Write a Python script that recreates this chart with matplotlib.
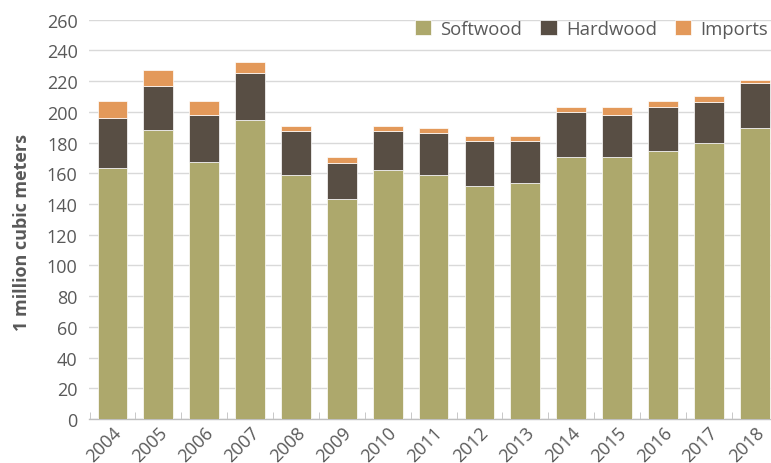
import matplotlib.pyplot as plt
import numpy as np

# valeurs (cumuls), en millions de m3
annees = ['2004', '2005', '2006', '2007', '2008', '2009', '2010', '2011',
          '2012', '2013', '2014', '2015', '2016', '2017', '2018']
softwood = [163.7, 188.1, 167.2, 194.8, 158.7, 143.0, 162.0, 158.7,
            151.5, 153.5, 170.6, 170.6, 174.2, 179.4, 189.6]
top_hardwood = [196.3, 217.0, 198.0, 225.4, 187.6, 167.0, 187.6, 186.0,
                180.9, 180.9, 199.8, 198.0, 203.3, 206.5, 218.9]
top_imports = [206.8, 227.4, 206.8, 232.6, 191.1, 170.5, 191.1, 189.6,
               184.3, 184.3, 203.3, 203.3, 207.0, 210.2, 220.7]

hardwood = [h - s for h, s in zip(top_hardwood, softwood)]
imports = [i - h for i, h in zip(top_imports, top_hardwood)]

gris = '#595959'
plt.rcParams['font.family'] = ['Open Sans', 'DejaVu Sans']

fig = plt.figure(figsize=(7.71, 4.64), dpi=100)
ax = fig.add_axes([0.115, 0.0948, 0.8947, 0.8606])

x = np.arange(len(annees))
largeur = 0.65
ax.bar(x, softwood, largeur, color='#ADA86C', edgecolor='white', linewidth=0.5,
       label='Softwood', zorder=3)
ax.bar(x, hardwood, largeur, bottom=softwood, color='#584E44', edgecolor='white',
       linewidth=0.5, label='Hardwood', zorder=3)
ax.bar(x, imports, largeur, bottom=top_hardwood, color='#E3995A', edgecolor='white',
       linewidth=0.5, label='Imports', zorder=3)

ax.set_xlim(-0.52, len(annees) - 0.48)
ax.set_ylim(0, 260)
ax.set_yticks(range(0, 261, 20))
ax.yaxis.grid(True, color='#d9d9d9', linewidth=1, zorder=0)
ax.set_axisbelow(True)

for s in ['left', 'top', 'right']:
    ax.spines[s].set_visible(False)
ax.spines['bottom'].set_color('#bfbfbf')
ax.spines['bottom'].set_linewidth(1)

ax.set_xticks(x)
ax.set_xticklabels(annees, rotation=45, ha='right', rotation_mode='anchor')
ax.set_xticks(np.arange(-0.5, len(annees), 1), minor=True)
ax.tick_params(axis='x', which='major', length=0, pad=3, labelsize=13, labelcolor=gris)
ax.tick_params(axis='x', which='minor', direction='in', length=5, color='#bfbfbf')
ax.tick_params(axis='y', length=0, pad=8, labelsize=13, labelcolor=gris)

ax.set_ylabel('1 million cubic meters', fontsize=13, fontweight='bold', color=gris)
ax.yaxis.set_label_coords(-0.083, 0.47)

leg = ax.legend(loc='upper right', bbox_to_anchor=(0.996, 1.017), ncol=3, frameon=False,
                fontsize=13.3, handlelength=0.87, handleheight=0.87, handletextpad=0.5,
                columnspacing=1.0, borderaxespad=0)
for t in leg.get_texts():
    t.set_color(gris)

plt.savefig('out.png', dpi=100)
